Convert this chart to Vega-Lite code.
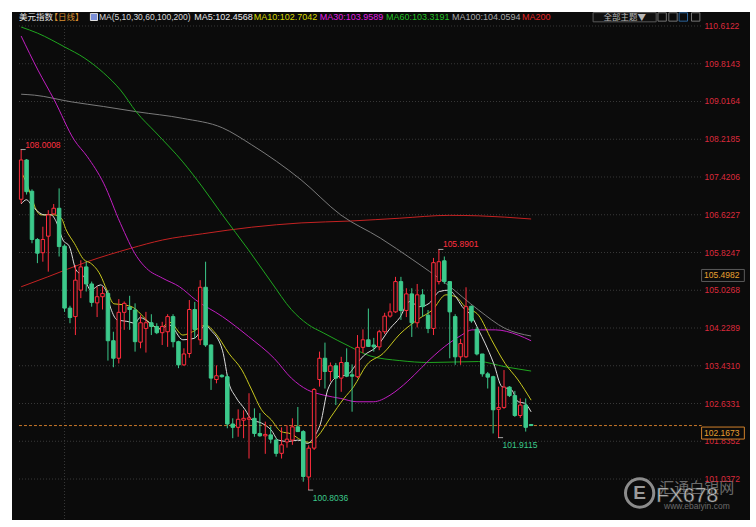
{
"$schema": "https://vega.github.io/schema/vega-lite/v6.json",
"width": 738, "height": 508,
"autosize": {"type": "none"},
"padding": {"left": 12, "top": 12, "right": 6, "bottom": 7},
"background": "#ffffff",
"view": {"fill": "#0b0b0b", "stroke": null},
"config": {"font": "Liberation Sans"},
"datasets": {
"ticks": [{"v":110.6122},{"v":109.8143},{"v":109.0164},{"v":108.2185},{"v":107.4206},{"v":106.6227},{"v":105.8247},{"v":105.0268},{"v":104.2289},{"v":103.4310},{"v":102.6331},{"v":101.8352},{"v":101.0372}],
"candles": [
{"i":0,"o":106.95,"h":108.0008,"l":106.86,"c":107.78},
{"i":1,"o":107.78,"h":107.80,"l":107.05,"c":107.11},
{"i":2,"o":107.12,"h":107.16,"l":106.02,"c":106.10},
{"i":3,"o":106.10,"h":106.13,"l":105.60,"c":105.81},
{"i":4,"o":105.82,"h":106.37,"l":105.63,"c":106.10},
{"i":5,"o":106.17,"h":106.72,"l":105.42,"c":106.62},
{"i":6,"o":106.64,"h":106.85,"l":106.62,"c":106.76},
{"i":7,"o":106.76,"h":107.18,"l":105.74,"c":105.95},
{"i":8,"o":105.96,"h":106.00,"l":104.57,"c":104.65},
{"i":9,"o":104.65,"h":104.70,"l":104.33,"c":104.45},
{"i":10,"o":104.47,"h":105.56,"l":104.08,"c":105.24},
{"i":11,"o":105.03,"h":105.66,"l":104.86,"c":105.52},
{"i":12,"o":105.52,"h":105.63,"l":105.00,"c":105.16},
{"i":13,"o":105.16,"h":105.21,"l":104.68,"c":104.77},
{"i":14,"o":104.76,"h":105.10,"l":104.46,"c":104.89},
{"i":15,"o":104.89,"h":105.10,"l":104.62,"c":104.96},
{"i":16,"o":104.96,"h":105.03,"l":103.54,"c":103.96},
{"i":17,"o":103.96,"h":104.15,"l":103.40,"c":103.59},
{"i":18,"o":103.59,"h":104.84,"l":103.48,"c":104.56},
{"i":19,"o":104.56,"h":104.79,"l":104.19,"c":104.75},
{"i":20,"o":104.67,"h":104.91,"l":104.19,"c":104.62},
{"i":21,"o":104.61,"h":104.75,"l":103.73,"c":103.94},
{"i":22,"o":103.93,"h":104.50,"l":103.80,"c":104.34},
{"i":23,"o":104.22,"h":104.57,"l":103.71,"c":104.34},
{"i":24,"o":104.34,"h":104.52,"l":104.08,"c":104.26},
{"i":25,"o":104.26,"h":104.33,"l":104.10,"c":104.13},
{"i":26,"o":104.13,"h":104.36,"l":103.87,"c":104.26},
{"i":27,"o":104.15,"h":104.52,"l":103.83,"c":104.47},
{"i":28,"o":104.47,"h":104.52,"l":103.82,"c":103.94},
{"i":29,"o":103.94,"h":103.96,"l":103.38,"c":103.45},
{"i":30,"o":103.45,"h":103.80,"l":103.43,"c":103.68},
{"i":31,"o":103.69,"h":104.82,"l":103.60,"c":104.62},
{"i":32,"o":104.62,"h":104.78,"l":104.01,"c":104.20},
{"i":33,"o":103.98,"h":105.24,"l":103.87,"c":105.09},
{"i":34,"o":105.09,"h":105.63,"l":103.83,"c":103.87},
{"i":35,"o":103.87,"h":103.88,"l":102.92,"c":103.17},
{"i":36,"o":103.14,"h":103.44,"l":103.06,"c":103.22},
{"i":37,"o":103.23,"h":103.25,"l":103.18,"c":103.20},
{"i":38,"o":103.20,"h":103.25,"l":102.11,"c":102.20},
{"i":39,"o":102.20,"h":102.32,"l":101.90,"c":102.13},
{"i":40,"o":102.13,"h":102.51,"l":101.93,"c":102.30},
{"i":41,"o":102.28,"h":102.49,"l":101.90,"c":102.32},
{"i":42,"o":102.30,"h":102.85,"l":101.47,"c":102.33},
{"i":43,"o":102.32,"h":102.53,"l":101.93,"c":102.00},
{"i":44,"o":102.00,"h":102.43,"l":101.93,"c":101.95},
{"i":45,"o":101.95,"h":102.25,"l":101.57,"c":101.98},
{"i":46,"o":101.97,"h":102.15,"l":101.79,"c":101.88},
{"i":47,"o":101.86,"h":101.90,"l":101.51,"c":101.58},
{"i":48,"o":101.58,"h":102.13,"l":101.47,"c":101.76},
{"i":49,"o":101.82,"h":102.17,"l":101.70,"c":101.88},
{"i":50,"o":101.86,"h":102.32,"l":101.76,"c":102.14},
{"i":51,"o":102.14,"h":102.56,"l":102.03,"c":102.04},
{"i":52,"o":102.04,"h":102.07,"l":100.98,"c":101.09},
{"i":53,"o":101.08,"h":101.75,"l":100.8036,"c":101.69},
{"i":54,"o":101.69,"h":102.96,"l":101.65,"c":102.93},
{"i":55,"o":103.14,"h":103.73,"l":102.99,"c":103.59},
{"i":56,"o":103.59,"h":103.92,"l":102.95,"c":103.31},
{"i":57,"o":103.31,"h":103.50,"l":103.10,"c":103.43},
{"i":58,"o":103.43,"h":103.49,"l":102.60,"c":103.17},
{"i":59,"o":103.17,"h":103.62,"l":102.88,"c":103.50},
{"i":60,"o":103.50,"h":103.80,"l":103.19,"c":103.21},
{"i":61,"o":103.24,"h":103.46,"l":102.46,"c":103.21},
{"i":62,"o":103.20,"h":104.08,"l":103.17,"c":103.82},
{"i":63,"o":103.82,"h":104.20,"l":103.70,"c":103.98},
{"i":64,"o":103.98,"h":104.64,"l":103.83,"c":103.84},
{"i":65,"o":103.87,"h":104.02,"l":103.73,"c":103.83},
{"i":66,"o":103.83,"h":104.19,"l":103.76,"c":104.15},
{"i":67,"o":104.15,"h":104.55,"l":104.10,"c":104.48},
{"i":68,"o":104.48,"h":104.75,"l":104.45,"c":104.57},
{"i":69,"o":104.57,"h":105.31,"l":104.55,"c":105.21},
{"i":70,"o":105.21,"h":105.31,"l":104.40,"c":104.60},
{"i":71,"o":104.60,"h":105.07,"l":104.46,"c":104.95},
{"i":72,"o":104.95,"h":105.07,"l":104.04,"c":104.34},
{"i":73,"o":104.34,"h":105.16,"l":104.24,"c":104.93},
{"i":74,"o":104.93,"h":105.05,"l":104.47,"c":104.68},
{"i":75,"o":104.50,"h":104.61,"l":104.12,"c":104.22},
{"i":76,"o":104.22,"h":105.71,"l":104.08,"c":105.61},
{"i":77,"o":105.21,"h":105.8901,"l":105.15,"c":105.63},
{"i":78,"o":105.65,"h":105.74,"l":105.16,"c":105.21},
{"i":79,"o":105.21,"h":105.21,"l":103.59,"c":104.57},
{"i":80,"o":104.47,"h":104.52,"l":103.45,"c":103.62},
{"i":81,"o":103.62,"h":104.00,"l":103.45,"c":103.90},
{"i":82,"o":103.62,"h":105.09,"l":103.60,"c":104.68},
{"i":83,"o":104.69,"h":104.70,"l":104.34,"c":104.38},
{"i":84,"o":104.20,"h":104.25,"l":103.65,"c":103.68},
{"i":85,"o":103.68,"h":103.68,"l":103.20,"c":103.26},
{"i":86,"o":103.26,"h":103.30,"l":102.95,"c":103.19},
{"i":87,"o":103.20,"h":103.22,"l":102.00,"c":102.50},
{"i":88,"o":102.51,"h":102.99,"l":101.9115,"c":102.55},
{"i":89,"o":102.55,"h":103.34,"l":102.52,"c":102.98},
{"i":90,"o":102.98,"h":103.00,"l":102.77,"c":102.80},
{"i":91,"o":102.80,"h":102.90,"l":102.35,"c":102.38},
{"i":92,"o":102.38,"h":102.74,"l":102.33,"c":102.60},
{"i":93,"o":102.60,"h":102.74,"l":102.04,"c":102.13},
{"i":94,"o":102.19,"h":102.20,"l":102.16,"c":102.1673}
],
"ma": [
{"s":"MA200","i":0,"v":105.10},{"s":"MA200","i":4.9,"v":105.31},{"s":"MA200","i":12.2,"v":105.63},{"s":"MA200","i":20.1,"v":105.91},{"s":"MA200","i":26.1,"v":106.09},{"s":"MA200","i":33.4,"v":106.22},{"s":"MA200","i":42.5,"v":106.36},{"s":"MA200","i":51.6,"v":106.45},{"s":"MA200","i":60.7,"v":106.49},{"s":"MA200","i":69.8,"v":106.55},{"s":"MA200","i":78.9,"v":106.61},{"s":"MA200","i":84.3,"v":106.60},{"s":"MA200","i":94,"v":106.533},
{"s":"MA100","i":0,"v":109.17},{"s":"MA100","i":2.5,"v":109.15},{"s":"MA100","i":9.2,"v":109.01},{"s":"MA100","i":15.2,"v":108.91},{"s":"MA100","i":21.3,"v":108.80},{"s":"MA100","i":29.8,"v":108.66},{"s":"MA100","i":37.1,"v":108.46},{"s":"MA100","i":42.5,"v":108.10},{"s":"MA100","i":51.6,"v":107.36},{"s":"MA100","i":58.9,"v":106.62},{"s":"MA100","i":66.2,"v":106.13},{"s":"MA100","i":72.2,"v":105.67},{"s":"MA100","i":78.3,"v":105.17},{"s":"MA100","i":84.3,"v":104.61},{"s":"MA100","i":89.2,"v":104.22},{"s":"MA100","i":94,"v":104.0594},
{"s":"MA60","i":0,"v":110.59},{"s":"MA60","i":3.05,"v":110.46},{"s":"MA60","i":8.0,"v":110.17},{"s":"MA60","i":11.6,"v":109.94},{"s":"MA60","i":15.2,"v":109.62},{"s":"MA60","i":18.3,"v":109.26},{"s":"MA60","i":21.2,"v":108.80},{"s":"MA60","i":24.9,"v":108.35},{"s":"MA60","i":29.8,"v":107.74},{"s":"MA60","i":33.4,"v":107.21},{"s":"MA60","i":37.1,"v":106.62},{"s":"MA60","i":41.9,"v":105.88},{"s":"MA60","i":46.1,"v":105.20},{"s":"MA60","i":49.8,"v":104.62},{"s":"MA60","i":52.8,"v":104.31},{"s":"MA60","i":55.8,"v":104.12},{"s":"MA60","i":60.7,"v":103.83},{"s":"MA60","i":64.3,"v":103.64},{"s":"MA60","i":69.8,"v":103.54},{"s":"MA60","i":75.2,"v":103.50},{"s":"MA60","i":84.3,"v":103.52},{"s":"MA60","i":89.2,"v":103.41},{"s":"MA60","i":94,"v":103.3191},
{"s":"MA30","i":0,"v":110.40},{"s":"MA30","i":3.1,"v":109.68},{"s":"MA30","i":6.1,"v":109.05},{"s":"MA30","i":9.8,"v":108.20},{"s":"MA30","i":12.2,"v":107.85},{"s":"MA30","i":15.2,"v":107.29},{"s":"MA30","i":18.3,"v":106.44},{"s":"MA30","i":21.3,"v":105.74},{"s":"MA30","i":23.1,"v":105.49},{"s":"MA30","i":26.1,"v":105.28},{"s":"MA30","i":29.2,"v":105.10},{"s":"MA30","i":32.2,"v":104.82},{"s":"MA30","i":37.1,"v":104.47},{"s":"MA30","i":41.9,"v":104.05},{"s":"MA30","i":46.7,"v":103.58},{"s":"MA30","i":49.8,"v":103.17},{"s":"MA30","i":52.8,"v":102.92},{"s":"MA30","i":55.8,"v":102.81},{"s":"MA30","i":58.9,"v":102.74},{"s":"MA30","i":61.9,"v":102.67},{"s":"MA30","i":64.9,"v":102.67},{"s":"MA30","i":68.0,"v":102.81},{"s":"MA30","i":69.8,"v":102.96},{"s":"MA30","i":72.5,"v":103.24},{"s":"MA30","i":75.2,"v":103.55},{"s":"MA30","i":78.9,"v":103.91},{"s":"MA30","i":81.2,"v":104.08},{"s":"MA30","i":83.1,"v":104.19},{"s":"MA30","i":87.4,"v":104.19},{"s":"MA30","i":91.6,"v":104.08},{"s":"MA30","i":94,"v":103.9589},
{"s":"MA10","i":0,"v":107.53},{"s":"MA10","i":1.0,"v":107.29},{"s":"MA10","i":1.9,"v":107.00},{"s":"MA10","i":2.8,"v":106.72},{"s":"MA10","i":3.7,"v":106.62},{"s":"MA10","i":6.1,"v":106.62},{"s":"MA10","i":7.4,"v":106.55},{"s":"MA10","i":8.3,"v":106.30},{"s":"MA10","i":9.8,"v":106.02},{"s":"MA10","i":11.6,"v":105.67},{"s":"MA10","i":12.8,"v":105.60},{"s":"MA10","i":14.6,"v":105.35},{"s":"MA10","i":15.8,"v":105.03},{"s":"MA10","i":17.1,"v":104.74},{"s":"MA10","i":18.9,"v":104.72},{"s":"MA10","i":20.7,"v":104.66},{"s":"MA10","i":22.5,"v":104.47},{"s":"MA10","i":23.7,"v":104.33},{"s":"MA10","i":25.5,"v":104.22},{"s":"MA10","i":27.4,"v":104.35},{"s":"MA10","i":29.8,"v":104.08},{"s":"MA10","i":31.6,"v":104.15},{"s":"MA10","i":34.0,"v":104.29},{"s":"MA10","i":35.8,"v":104.12},{"s":"MA10","i":38.3,"v":103.69},{"s":"MA10","i":40.7,"v":103.34},{"s":"MA10","i":42.5,"v":102.92},{"s":"MA10","i":44.3,"v":102.50},{"s":"MA10","i":46.1,"v":102.29},{"s":"MA10","i":47.9,"v":102.04},{"s":"MA10","i":49.8,"v":101.99},{"s":"MA10","i":51.6,"v":101.86},{"s":"MA10","i":53.4,"v":101.81},{"s":"MA10","i":54.6,"v":101.93},{"s":"MA10","i":57.1,"v":102.35},{"s":"MA10","i":59.5,"v":102.74},{"s":"MA10","i":61.3,"v":102.99},{"s":"MA10","i":63.7,"v":103.45},{"s":"MA10","i":66.7,"v":103.69},{"s":"MA10","i":69.8,"v":104.10},{"s":"MA10","i":73.4,"v":104.43},{"s":"MA10","i":75.8,"v":104.61},{"s":"MA10","i":78.3,"v":104.93},{"s":"MA10","i":80.1,"v":104.89},{"s":"MA10","i":81.9,"v":104.67},{"s":"MA10","i":84.3,"v":104.50},{"s":"MA10","i":86.7,"v":103.98},{"s":"MA10","i":89.2,"v":103.48},{"s":"MA10","i":91.6,"v":103.13},{"s":"MA10","i":94,"v":102.7042},
{"s":"MA5","i":0,"v":106.85},{"s":"MA5","i":1.0,"v":106.94},{"s":"MA5","i":1.9,"v":106.83},{"s":"MA5","i":3.1,"v":106.69},{"s":"MA5","i":4.3,"v":106.62},{"s":"MA5","i":5.5,"v":106.62},{"s":"MA5","i":6.5,"v":106.47},{"s":"MA5","i":7.7,"v":106.09},{"s":"MA5","i":8.9,"v":105.95},{"s":"MA5","i":10.1,"v":105.46},{"s":"MA5","i":11.6,"v":105.31},{"s":"MA5","i":12.8,"v":105.03},{"s":"MA5","i":14.6,"v":105.14},{"s":"MA5","i":15.5,"v":105.05},{"s":"MA5","i":16.5,"v":104.65},{"s":"MA5","i":17.7,"v":104.40},{"s":"MA5","i":19.5,"v":104.37},{"s":"MA5","i":21.0,"v":104.33},{"s":"MA5","i":21.9,"v":104.45},{"s":"MA5","i":23.7,"v":104.34},{"s":"MA5","i":25.5,"v":104.21},{"s":"MA5","i":27.4,"v":104.29},{"s":"MA5","i":29.8,"v":103.98},{"s":"MA5","i":31.9,"v":104.01},{"s":"MA5","i":34.0,"v":104.29},{"s":"MA5","i":34.9,"v":104.19},{"s":"MA5","i":37.1,"v":103.76},{"s":"MA5","i":38.3,"v":103.06},{"s":"MA5","i":39.5,"v":102.78},{"s":"MA5","i":41.3,"v":102.50},{"s":"MA5","i":42.5,"v":102.29},{"s":"MA5","i":44.3,"v":102.22},{"s":"MA5","i":46.1,"v":102.07},{"s":"MA5","i":47.4,"v":101.86},{"s":"MA5","i":49.2,"v":101.83},{"s":"MA5","i":51.0,"v":101.86},{"s":"MA5","i":52.8,"v":101.79},{"s":"MA5","i":54.0,"v":101.93},{"s":"MA5","i":55.2,"v":102.22},{"s":"MA5","i":56.5,"v":102.92},{"s":"MA5","i":58.3,"v":103.20},{"s":"MA5","i":60.1,"v":103.24},{"s":"MA5","i":61.9,"v":103.48},{"s":"MA5","i":63.1,"v":103.64},{"s":"MA5","i":65.5,"v":103.83},{"s":"MA5","i":68.0,"v":104.22},{"s":"MA5","i":69.8,"v":104.45},{"s":"MA5","i":71.6,"v":104.79},{"s":"MA5","i":73.4,"v":104.68},{"s":"MA5","i":75.2,"v":104.75},{"s":"MA5","i":77.1,"v":105.00},{"s":"MA5","i":78.9,"v":105.03},{"s":"MA5","i":80.1,"v":104.89},{"s":"MA5","i":81.3,"v":104.68},{"s":"MA5","i":83.1,"v":104.47},{"s":"MA5","i":84.3,"v":104.19},{"s":"MA5","i":85.5,"v":103.91},{"s":"MA5","i":87.1,"v":103.48},{"s":"MA5","i":88.6,"v":102.99},{"s":"MA5","i":90.4,"v":102.92},{"s":"MA5","i":91.6,"v":102.67},{"s":"MA5","i":92.8,"v":102.64},{"s":"MA5","i":94,"v":102.4568}
]
},
"layer": [
{"data": {"name": "ticks"},
 "mark": {"type": "rule", "color": "#3a3a3a", "strokeDash": [1, 2], "strokeWidth": 1},
 "encoding": {
  "y": {"field": "v", "type": "quantitative", "scale": {"domain": [100.171, 110.908], "nice": false, "zero": false}, "axis": null},
  "x": {"datum": -0.4, "type": "quantitative", "scale": {"domain": [-0.764, 133.42], "nice": false, "zero": false}, "axis": null},
  "x2": {"datum": 125.6}
 }},
{"data": {"values": [{}]},
 "mark": {"type": "rule", "color": "#3a3a3a", "strokeDash": [1, 2], "strokeWidth": 1},
 "encoding": {
  "x": {"datum": 8, "type": "quantitative", "scale": {"domain": [-0.764, 133.42], "nice": false, "zero": false}, "axis": null},
  "y": {"datum": 110.6122, "type": "quantitative", "scale": {"domain": [100.171, 110.908], "nice": false, "zero": false}, "axis": null},
  "y2": {"datum": 100.171}
 }},
{"data": {"values": [{}]},
 "mark": {"type": "point", "shape": "circle", "size": 800, "filled": false, "stroke": "#9a9a9a", "strokeWidth": 3, "opacity": 0.9},
 "encoding": {
  "x": {"datum": 114.0, "type": "quantitative", "scale": {"domain": [-0.764, 133.42], "nice": false, "zero": false}, "axis": null},
  "y": {"datum": 100.742, "type": "quantitative", "scale": {"domain": [100.171, 110.908], "nice": false, "zero": false}, "axis": null}
 }},
{"data": {"values": [{"t": "E"}]},
 "mark": {"type": "text", "align": "center", "baseline": "middle", "color": "#9a9a9a", "fontSize": 19, "fontWeight": "bold"},
 "encoding": {
  "x": {"datum": 114.0, "type": "quantitative", "scale": {"domain": [-0.764, 133.42], "nice": false, "zero": false}, "axis": null},
  "y": {"datum": 100.742, "type": "quantitative", "scale": {"domain": [100.171, 110.908], "nice": false, "zero": false}, "axis": null},
  "text": {"field": "t"}
 }},
{"data": {"values": [{"t": "汇通白银网"}]},
 "mark": {"type": "text", "align": "left", "baseline": "middle", "color": "#6a6a6a", "fontSize": 15, "font": "Noto Sans CJK SC"},
 "encoding": {
  "x": {"datum": 117.6, "type": "quantitative", "scale": {"domain": [-0.764, 133.42], "nice": false, "zero": false}, "axis": null},
  "y": {"datum": 100.85, "type": "quantitative", "scale": {"domain": [100.171, 110.908], "nice": false, "zero": false}, "axis": null},
  "text": {"field": "t"}
 }},
{"data": {"values": [{"t": "www.ebaiyin.com"}]},
 "mark": {"type": "text", "align": "left", "baseline": "middle", "color": "#6a6a6a", "fontSize": 8.5},
 "encoding": {
  "x": {"datum": 118.5, "type": "quantitative", "scale": {"domain": [-0.764, 133.42], "nice": false, "zero": false}, "axis": null},
  "y": {"datum": 100.47, "type": "quantitative", "scale": {"domain": [100.171, 110.908], "nice": false, "zero": false}, "axis": null},
  "text": {"field": "t"}
 }},
{"data": {"values": [{"t": "FX678"}]},
 "mark": {"type": "text", "align": "left", "baseline": "middle", "color": "#e0e0e0", "fontSize": 21, "stroke": "#404040", "strokeWidth": 0.6, "opacity": 0.9},
 "encoding": {
  "x": {"datum": 117.05, "type": "quantitative", "scale": {"domain": [-0.764, 133.42], "nice": false, "zero": false}, "axis": null},
  "y": {"datum": 100.68, "type": "quantitative", "scale": {"domain": [100.171, 110.908], "nice": false, "zero": false}, "axis": null},
  "text": {"field": "t"}
 }},
{"data": {"name": "ma"},
 "mark": {"type": "line", "strokeWidth": 1, "interpolate": "monotone"},
 "encoding": {
  "x": {"field": "i", "type": "quantitative", "scale": {"domain": [-0.764, 133.42], "nice": false, "zero": false}, "axis": null},
  "y": {"field": "v", "type": "quantitative", "scale": {"domain": [100.171, 110.908], "nice": false, "zero": false}, "axis": null},
  "color": {"field": "s", "type": "nominal", "scale": {"domain": ["MA5","MA10","MA30","MA60","MA100","MA200"], "range": ["#dcdcdc","#c8c81e","#c21ec2","#1fa61f","#7a7a7a","#c42222"]}, "legend": null}
 }},
{"data": {"values": [{}]},
 "mark": {"type": "rule", "color": "#c8782a", "strokeDash": [3, 2], "strokeWidth": 1},
 "encoding": {
  "x": {"datum": -0.4, "type": "quantitative", "scale": {"domain": [-0.764, 133.42], "nice": false, "zero": false}, "axis": null},
  "x2": {"datum": 125.42},
  "y": {"datum": 102.1673, "type": "quantitative", "scale": {"domain": [100.171, 110.908], "nice": false, "zero": false}, "axis": null}
 }},
{"data": {"name": "candles"},
 "mark": {"type": "rule", "strokeWidth": 1},
 "encoding": {
  "x": {"field": "i", "type": "quantitative", "scale": {"domain": [-0.764, 133.42], "nice": false, "zero": false}, "axis": null},
  "y": {"field": "l", "type": "quantitative", "scale": {"domain": [100.171, 110.908], "nice": false, "zero": false}, "axis": null},
  "y2": {"field": "h"},
  "color": {"condition": {"test": "datum.c >= datum.o", "value": "#ff2d3d"}, "value": "#3cc98b"}
 }},
{"data": {"name": "candles"},
 "transform": [{"filter": "datum.c >= datum.o"}],
 "mark": {"type": "bar", "width": 3.5, "fill": "#0b0b0b", "stroke": "#ff2d3d", "strokeWidth": 1},
 "encoding": {
  "x": {"field": "i", "type": "quantitative", "scale": {"domain": [-0.764, 133.42], "nice": false, "zero": false}, "axis": null},
  "y": {"field": "o", "type": "quantitative", "scale": {"domain": [100.171, 110.908], "nice": false, "zero": false}, "axis": null},
  "y2": {"field": "c"}
 }},
{"data": {"name": "candles"},
 "transform": [{"filter": "datum.c < datum.o"}],
 "mark": {"type": "bar", "width": 3.5, "fill": "#3cc98b", "stroke": "#3cc98b", "strokeWidth": 1},
 "encoding": {
  "x": {"field": "i", "type": "quantitative", "scale": {"domain": [-0.764, 133.42], "nice": false, "zero": false}, "axis": null},
  "y": {"field": "o", "type": "quantitative", "scale": {"domain": [100.171, 110.908], "nice": false, "zero": false}, "axis": null},
  "y2": {"field": "c"}
 }},
{"data": {"values": [{"i": 0, "v": 108.0008}, {"i": 77, "v": 105.8901}, {"i": 53, "v": 100.8036}, {"i": 88, "v": 101.9115}]},
 "mark": {"type": "tick", "orient": "horizontal", "size": 5, "thickness": 1, "color": "#e8e8e8", "xOffset": 2},
 "encoding": {
  "x": {"field": "i", "type": "quantitative", "scale": {"domain": [-0.764, 133.42], "nice": false, "zero": false}, "axis": null},
  "y": {"field": "v", "type": "quantitative", "scale": {"domain": [100.171, 110.908], "nice": false, "zero": false}, "axis": null}
 }},
{"data": {"values": [{"i": 0, "v": 108.0008}, {"i": 77, "v": 105.8901}]},
 "mark": {"type": "text", "align": "left", "baseline": "middle", "dx": 4, "dy": -5, "color": "#ff3040", "fontSize": 8.5},
 "encoding": {
  "x": {"field": "i", "type": "quantitative", "scale": {"domain": [-0.764, 133.42], "nice": false, "zero": false}, "axis": null},
  "y": {"field": "v", "type": "quantitative", "scale": {"domain": [100.171, 110.908], "nice": false, "zero": false}, "axis": null},
  "text": {"field": "v", "format": ".4f"}
 }},
{"data": {"values": [{"i": 53, "v": 100.8036}, {"i": 88, "v": 101.9115}]},
 "mark": {"type": "text", "align": "left", "baseline": "middle", "dx": 4, "dy": 7.5, "color": "#3cc98b", "fontSize": 8.5},
 "encoding": {
  "x": {"field": "i", "type": "quantitative", "scale": {"domain": [-0.764, 133.42], "nice": false, "zero": false}, "axis": null},
  "y": {"field": "v", "type": "quantitative", "scale": {"domain": [100.171, 110.908], "nice": false, "zero": false}, "axis": null},
  "text": {"field": "v", "format": ".4f"}
 }},
{"data": {"name": "ticks"},
 "mark": {"type": "text", "align": "left", "baseline": "middle", "color": "#dc2a3c", "fontSize": 8.5, "font": "Liberation Sans"},
 "encoding": {
  "y": {"field": "v", "type": "quantitative", "scale": {"domain": [100.171, 110.908], "nice": false, "zero": false}, "axis": null},
  "x": {"datum": 125.96, "type": "quantitative", "scale": {"domain": [-0.764, 133.42], "nice": false, "zero": false}, "axis": null},
  "text": {"field": "v", "format": ".4f"}
 }},
{"data": {"values": [{"v": 105.4982, "k": "mark"}, {"v": 102.1673, "k": "last"}]},
 "mark": {"type": "rect", "fill": "#0b0b0b", "strokeWidth": 1, "yOffset": 1.5, "y2Offset": 13.5},
 "encoding": {
  "x": {"datum": 125.42, "type": "quantitative", "scale": {"domain": [-0.764, 133.42], "nice": false, "zero": false}, "axis": null},
  "x2": {"datum": 133.3},
  "y": {"field": "v", "type": "quantitative", "scale": {"domain": [100.171, 110.908], "nice": false, "zero": false}, "axis": null},
  "y2": {"field": "v"},
  "stroke": {"field": "k", "type": "nominal", "scale": {"domain": ["mark", "last"], "range": ["#5a5a5a", "#d0802a"]}, "legend": null}
 }},
{"data": {"values": [{"v": 105.4982}, {"v": 102.1673}]},
 "mark": {"type": "text", "align": "left", "baseline": "middle", "dy": 7.5, "color": "#e8a030", "fontSize": 8.5},
 "encoding": {
  "x": {"datum": 125.87, "type": "quantitative", "scale": {"domain": [-0.764, 133.42], "nice": false, "zero": false}, "axis": null},
  "y": {"field": "v", "type": "quantitative", "scale": {"domain": [100.171, 110.908], "nice": false, "zero": false}, "axis": null},
  "text": {"field": "v", "format": ".4f"}
 }},
{"data": {"values": [{"t": "美元指数"}]},
 "mark": {"type": "text", "align": "left", "baseline": "middle", "color": "#e6e6e6", "fontSize": 8.5, "font": "Noto Sans CJK SC"},
 "encoding": {
  "x": {"datum": -0.4, "type": "quantitative", "scale": {"domain": [-0.764, 133.42], "nice": false, "zero": false}, "axis": null},
  "y": {"datum": 110.803, "type": "quantitative", "scale": {"domain": [100.171, 110.908], "nice": false, "zero": false}, "axis": null},
  "text": {"field": "t"}
 }},
{"data": {"values": [{"t": "【日线】"}]},
 "mark": {"type": "text", "align": "left", "baseline": "middle", "color": "#d89030", "fontSize": 8.5, "font": "Noto Sans CJK SC"},
 "encoding": {
  "x": {"datum": 5.24, "type": "quantitative", "scale": {"domain": [-0.764, 133.42], "nice": false, "zero": false}, "axis": null},
  "y": {"datum": 110.803, "type": "quantitative", "scale": {"domain": [100.171, 110.908], "nice": false, "zero": false}, "axis": null},
  "text": {"field": "t"}
 }},
{"data": {"values": [{}]},
 "mark": {"type": "point", "shape": "square", "size": 50, "filled": true, "fill": "#7b8fd8", "stroke": "#e0e0e0", "strokeWidth": 1, "opacity": 1},
 "encoding": {
  "x": {"datum": 13.42, "type": "quantitative", "scale": {"domain": [-0.764, 133.42], "nice": false, "zero": false}, "axis": null},
  "y": {"datum": 110.803, "type": "quantitative", "scale": {"domain": [100.171, 110.908], "nice": false, "zero": false}, "axis": null}
 }},
{"data": {"values": [{"t": "MA(5,10,30,60,100,200)"}]},
 "mark": {"type": "text", "align": "left", "baseline": "middle", "color": "#d8d8d8", "fontSize": 8.5},
 "encoding": {
  "x": {"datum": 14.33, "type": "quantitative", "scale": {"domain": [-0.764, 133.42], "nice": false, "zero": false}, "axis": null},
  "y": {"datum": 110.803, "type": "quantitative", "scale": {"domain": [100.171, 110.908], "nice": false, "zero": false}, "axis": null},
  "text": {"field": "t"}
 }},
{"data": {"values": [{"t": "MA5:102.4568"}]},
 "mark": {"type": "text", "align": "left", "baseline": "middle", "color": "#e8e8e8", "fontSize": 9},
 "encoding": {
  "x": {"datum": 31.9, "type": "quantitative", "scale": {"domain": [-0.764, 133.42], "nice": false, "zero": false}, "axis": null},
  "y": {"datum": 110.803, "type": "quantitative", "scale": {"domain": [100.171, 110.908], "nice": false, "zero": false}, "axis": null},
  "text": {"field": "t"}
 }},
{"data": {"values": [{"t": "MA10:102.7042"}]},
 "mark": {"type": "text", "align": "left", "baseline": "middle", "color": "#d6d600", "fontSize": 9},
 "encoding": {
  "x": {"datum": 42.87, "type": "quantitative", "scale": {"domain": [-0.764, 133.42], "nice": false, "zero": false}, "axis": null},
  "y": {"datum": 110.803, "type": "quantitative", "scale": {"domain": [100.171, 110.908], "nice": false, "zero": false}, "axis": null},
  "text": {"field": "t"}
 }},
{"data": {"values": [{"t": "MA30:103.9589"}]},
 "mark": {"type": "text", "align": "left", "baseline": "middle", "color": "#e020e0", "fontSize": 9},
 "encoding": {
  "x": {"datum": 55.05, "type": "quantitative", "scale": {"domain": [-0.764, 133.42], "nice": false, "zero": false}, "axis": null},
  "y": {"datum": 110.803, "type": "quantitative", "scale": {"domain": [100.171, 110.908], "nice": false, "zero": false}, "axis": null},
  "text": {"field": "t"}
 }},
{"data": {"values": [{"t": "MA60:103.3191"}]},
 "mark": {"type": "text", "align": "left", "baseline": "middle", "color": "#22c022", "fontSize": 9},
 "encoding": {
  "x": {"datum": 67.24, "type": "quantitative", "scale": {"domain": [-0.764, 133.42], "nice": false, "zero": false}, "axis": null},
  "y": {"datum": 110.803, "type": "quantitative", "scale": {"domain": [100.171, 110.908], "nice": false, "zero": false}, "axis": null},
  "text": {"field": "t"}
 }},
{"data": {"values": [{"t": "MA100:104.0594"}]},
 "mark": {"type": "text", "align": "left", "baseline": "middle", "color": "#a8a8a8", "fontSize": 9},
 "encoding": {
  "x": {"datum": 79.42, "type": "quantitative", "scale": {"domain": [-0.764, 133.42], "nice": false, "zero": false}, "axis": null},
  "y": {"datum": 110.803, "type": "quantitative", "scale": {"domain": [100.171, 110.908], "nice": false, "zero": false}, "axis": null},
  "text": {"field": "t"}
 }},
{"data": {"values": [{"t": "MA200"}]},
 "mark": {"type": "text", "align": "left", "baseline": "middle", "color": "#e02424", "fontSize": 9},
 "encoding": {
  "x": {"datum": 92.33, "type": "quantitative", "scale": {"domain": [-0.764, 133.42], "nice": false, "zero": false}, "axis": null},
  "y": {"datum": 110.803, "type": "quantitative", "scale": {"domain": [100.171, 110.908], "nice": false, "zero": false}, "axis": null},
  "text": {"field": "t"}
 }},
{"data": {"values": [{}]},
 "mark": {"type": "rect", "fill": "#101010", "stroke": "#5a5a5a", "strokeWidth": 1},
 "encoding": {
  "x": {"datum": 105.42, "type": "quantitative", "scale": {"domain": [-0.764, 133.42], "nice": false, "zero": false}, "axis": null},
  "x2": {"datum": 117.05},
  "y": {"datum": 110.895, "type": "quantitative", "scale": {"domain": [100.171, 110.908], "nice": false, "zero": false}, "axis": null},
  "y2": {"datum": 110.70}
 }},
{"data": {"values": [{"t": "全部主题▼"}]},
 "mark": {"type": "text", "align": "center", "baseline": "middle", "color": "#b8b8b8", "fontSize": 8.5, "font": "Noto Sans CJK SC"},
 "encoding": {
  "x": {"datum": 111.24, "type": "quantitative", "scale": {"domain": [-0.764, 133.42], "nice": false, "zero": false}, "axis": null},
  "y": {"datum": 110.803, "type": "quantitative", "scale": {"domain": [100.171, 110.908], "nice": false, "zero": false}, "axis": null},
  "text": {"field": "t"}
 }},
{"data": {"values": [{}]},
 "mark": {"type": "point", "shape": "square", "size": 70, "filled": false, "stroke": "#a0a0a0", "strokeWidth": 1},
 "encoding": {
  "x": {"datum": 118.15, "type": "quantitative", "scale": {"domain": [-0.764, 133.42], "nice": false, "zero": false}, "axis": null},
  "y": {"datum": 110.803, "type": "quantitative", "scale": {"domain": [100.171, 110.908], "nice": false, "zero": false}, "axis": null}
 }},
{"data": {"values": [{}]},
 "mark": {"type": "point", "shape": "square", "size": 70, "filled": false, "stroke": "#a0a0a0", "strokeWidth": 1},
 "encoding": {
  "x": {"datum": 120.15, "type": "quantitative", "scale": {"domain": [-0.764, 133.42], "nice": false, "zero": false}, "axis": null},
  "y": {"datum": 110.803, "type": "quantitative", "scale": {"domain": [100.171, 110.908], "nice": false, "zero": false}, "axis": null}
 }},
{"data": {"values": [{}]},
 "mark": {"type": "point", "shape": "square", "size": 70, "filled": false, "stroke": "#3a8ad8", "strokeWidth": 1},
 "encoding": {
  "x": {"datum": 122.05, "type": "quantitative", "scale": {"domain": [-0.764, 133.42], "nice": false, "zero": false}, "axis": null},
  "y": {"datum": 110.803, "type": "quantitative", "scale": {"domain": [100.171, 110.908], "nice": false, "zero": false}, "axis": null}
 }},
{"data": {"values": [{}]},
 "mark": {"type": "point", "shape": "square", "size": 70, "filled": false, "stroke": "#a0a0a0", "strokeWidth": 1},
 "encoding": {
  "x": {"datum": 124.33, "type": "quantitative", "scale": {"domain": [-0.764, 133.42], "nice": false, "zero": false}, "axis": null},
  "y": {"datum": 110.803, "type": "quantitative", "scale": {"domain": [100.171, 110.908], "nice": false, "zero": false}, "axis": null}
 }}
]
}
